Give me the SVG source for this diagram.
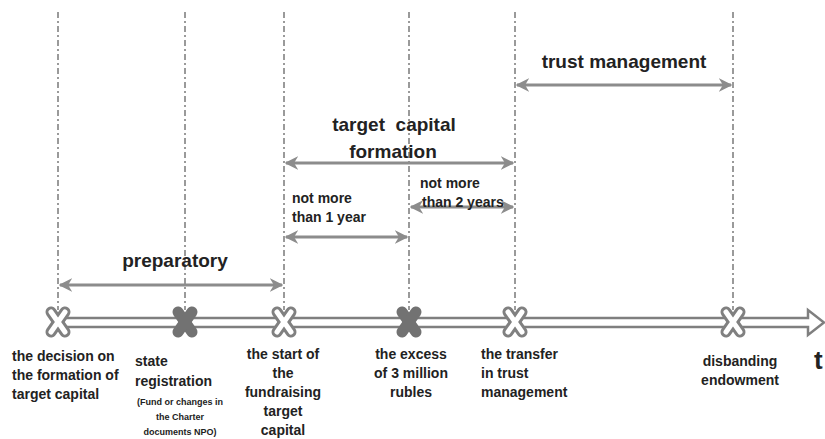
<svg xmlns="http://www.w3.org/2000/svg" width="825" height="439" viewBox="0 0 825 439">
<style>
.guide{stroke:#9a9a9a;stroke-width:2;stroke-dasharray:6 3 2 3;fill:none}
.span{stroke:#8c8c8c;stroke-width:3;fill:none;marker-start:url(#ah);marker-end:url(#ah)}
.lbl{font-family:"Liberation Sans",Arial,sans-serif;font-weight:bold;font-size:14px;fill:#222}
.ttl{font-family:"Liberation Sans",Arial,sans-serif;font-weight:bold;font-size:19px;fill:#222}
.sm{font-family:"Liberation Sans",Arial,sans-serif;font-weight:bold;font-size:9px;fill:#222}
.xo{stroke:#808080;stroke-width:11;stroke-linecap:round}
.xi{stroke:#ffffff;stroke-width:5;stroke-linecap:round}
.xf{stroke:#727272;stroke-width:11;stroke-linecap:round}
</style>
<defs>
<marker id="ah" viewBox="0 0 10 10" refX="9" refY="5" markerWidth="4.5" markerHeight="4.5" orient="auto-start-reverse" markerUnits="strokeWidth">
<path d="M0,0 L10,5 L0,10 L3,5 Z" fill="#8c8c8c"/>
</marker>
<g id="xw"><line class="xo" x1="-7" y1="-10" x2="7" y2="10"/><line class="xo" x1="7" y1="-10" x2="-7" y2="10"/><line class="xi" x1="-7" y1="-10" x2="7" y2="10"/><line class="xi" x1="7" y1="-10" x2="-7" y2="10"/></g>
<g id="xg"><line class="xf" x1="-7" y1="-10" x2="7" y2="10"/><line class="xf" x1="7" y1="-10" x2="-7" y2="10"/></g>
</defs>
<rect width="825" height="439" fill="#ffffff"/>
<g id="guides">
<line class="guide" x1="58" y1="12" x2="58" y2="310"/>
<line class="guide" x1="185" y1="12" x2="185" y2="310"/>
<line class="guide" x1="284" y1="12" x2="284" y2="310"/>
<line class="guide" x1="409" y1="12" x2="409" y2="310"/>
<line class="guide" x1="515" y1="12" x2="515" y2="310"/>
<line class="guide" x1="733" y1="12" x2="733" y2="310"/>
</g>
<g id="connectors">
<line class="span" x1="60" y1="285" x2="282" y2="285"/>
<line class="span" x1="286" y1="237" x2="407" y2="237"/>
<line class="span" x1="411" y1="207" x2="513" y2="207"/>
<line class="span" x1="286" y1="163" x2="513" y2="163"/>
<line class="span" x1="517" y1="85" x2="731" y2="85"/>
</g>
<g id="timeline">
<path d="M58,318 H808 V310 L824,322.5 L808,335 V327 H58 Z" fill="#ffffff" stroke="#7f7f7f" stroke-width="2.5" stroke-linejoin="miter"/>
</g>
<g id="period-trust"><text class="ttl" x="624" y="68" text-anchor="middle">trust management</text></g>
<g id="period-formation"><text class="ttl" x="394" y="131" text-anchor="middle" xml:space="preserve">target  capital</text><text class="ttl" x="393" y="158" text-anchor="middle">formation</text></g>
<g id="period-1year"><text class="lbl" x="292" y="203">not more</text><text class="lbl" x="292" y="222">than 1 year</text></g>
<g id="period-2years"><text class="lbl" x="420" y="188">not more</text><text class="lbl" x="422" y="207">than 2 years</text></g>
<g id="period-preparatory"><text class="ttl" x="175" y="267" text-anchor="middle">preparatory</text></g>
<g id="n1"><use href="#xw" x="58" y="322"/>
<text class="lbl" x="12" y="361">the decision on</text><text class="lbl" x="12" y="380">the formation of</text><text class="lbl" x="12" y="399">target capital</text></g>
<g id="n2"><use href="#xg" x="185" y="322"/>
<text class="lbl" x="135" y="366">state</text><text class="lbl" x="135" y="386">registration</text>
<text class="sm" x="180" y="405" text-anchor="middle">(Fund or changes in</text><text class="sm" x="180" y="420" text-anchor="middle">the Charter</text><text class="sm" x="180" y="435" text-anchor="middle">documents NPO)</text></g>
<g id="n3"><use href="#xw" x="284" y="322"/>
<text class="lbl" x="283" y="359" text-anchor="middle">the start of</text><text class="lbl" x="283" y="378" text-anchor="middle">the</text><text class="lbl" x="283" y="397" text-anchor="middle">fundraising</text><text class="lbl" x="283" y="416" text-anchor="middle">target</text><text class="lbl" x="283" y="435" text-anchor="middle">capital</text></g>
<g id="n4"><use href="#xg" x="409" y="322"/>
<text class="lbl" x="411" y="359" text-anchor="middle">the excess</text><text class="lbl" x="411" y="378" text-anchor="middle">of 3 million</text><text class="lbl" x="411" y="397" text-anchor="middle">rubles</text></g>
<g id="n5"><use href="#xw" x="515" y="322"/>
<text class="lbl" x="481" y="359">the transfer</text><text class="lbl" x="481" y="378">in trust</text><text class="lbl" x="481" y="397">management</text></g>
<g id="n6"><use href="#xw" x="733" y="322"/>
<text class="lbl" x="740" y="366" text-anchor="middle">disbanding</text><text class="lbl" x="740" y="385" text-anchor="middle">endowment</text></g>
<g id="axis-label"><text x="814" y="369" font-family="Liberation Sans,Arial,sans-serif" font-weight="bold" font-size="26" fill="#222">t</text></g>
</svg>
